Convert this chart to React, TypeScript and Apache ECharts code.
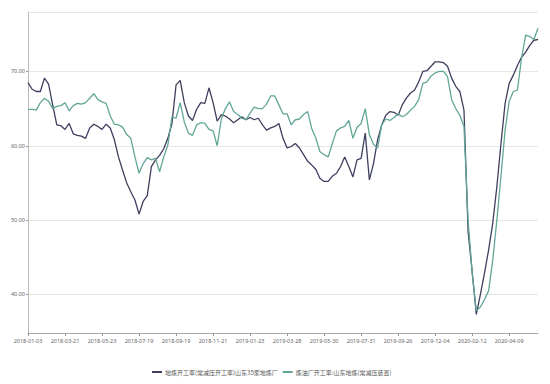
import React, { useEffect, useRef } from "react";
import * as echarts from "echarts";

const dates: string[] = [
  "2018-01-03", "2018-01-10", "2018-01-17", "2018-01-24", "2018-01-31", "2018-02-07", "2018-02-28", "2018-03-07", "2018-03-14",
  "2018-03-21", "2018-03-28", "2018-04-04", "2018-04-11", "2018-04-18", "2018-04-25", "2018-05-02", "2018-05-09", "2018-05-16",
  "2018-05-23", "2018-05-30", "2018-06-06", "2018-06-13", "2018-06-20", "2018-06-27", "2018-07-04", "2018-07-11", "2018-07-12",
  "2018-07-19", "2018-07-26", "2018-08-02", "2018-08-09", "2018-08-16", "2018-08-23", "2018-08-30", "2018-09-06", "2018-09-13",
  "2018-09-19", "2018-09-26", "2018-10-03", "2018-10-10", "2018-10-17", "2018-10-24", "2018-10-31", "2018-11-07", "2018-11-14",
  "2018-11-21", "2018-11-28", "2018-12-05", "2018-12-12", "2018-12-19", "2018-12-26", "2019-01-02", "2019-01-09", "2019-01-16",
  "2019-01-23", "2019-01-30", "2019-02-14", "2019-02-21", "2019-02-28", "2019-03-07", "2019-03-14", "2019-03-21", "2019-03-27",
  "2019-03-28", "2019-04-04", "2019-04-11", "2019-04-18", "2019-04-25", "2019-05-02", "2019-05-09", "2019-05-16", "2019-05-23",
  "2019-05-30", "2019-06-06", "2019-06-13", "2019-06-20", "2019-06-27", "2019-07-04", "2019-07-11", "2019-07-18", "2019-07-25",
  "2019-07-31", "2019-08-07", "2019-08-14", "2019-08-21", "2019-08-28", "2019-09-04", "2019-09-11", "2019-09-18", "2019-09-20",
  "2019-09-26", "2019-10-10", "2019-10-17", "2019-10-24", "2019-10-31", "2019-11-07", "2019-11-14", "2019-11-21", "2019-11-27",
  "2019-12-04", "2019-12-11", "2019-12-18", "2019-12-25", "2020-01-02", "2020-01-08", "2020-01-15", "2020-01-22", "2020-02-05",
  "2020-02-12", "2020-02-19", "2020-02-26", "2020-03-04", "2020-03-11", "2020-03-18", "2020-03-25", "2020-04-01", "2020-04-03",
  "2020-04-09", "2020-04-16", "2020-04-23", "2020-04-29", "2020-05-07", "2020-05-14", "2020-05-21", "2020-05-28",
];

const seriesNames: string[] = [
  "地炼开工率(常减压开工率)山东35家地炼厂",
  "炼油厂开工率:山东地炼(常减压装置)",
];

const darkValues: number[] = [
  68.5, 67.6, 67.3, 67.3, 69.1, 68.3, 65.5, 62.8, 62.7, 62.2,
  63.0, 61.6, 61.4, 61.3, 61.0, 62.4, 62.9, 62.6, 62.2, 62.9,
  62.4, 60.8, 58.5, 56.7, 55.0, 53.8, 52.7, 50.8, 52.5, 53.3,
  57.2, 58.1, 58.7, 59.6, 61.0, 63.0, 68.2, 68.8, 65.8, 64.0,
  63.4, 64.9, 65.8, 65.7, 67.8, 65.8, 63.3, 64.2, 64.0, 63.6,
  63.1, 63.5, 63.9, 63.5, 63.8, 63.5, 63.7, 62.8, 62.1, 62.4,
  62.6, 63.0, 61.0, 59.7, 59.9, 60.3, 59.7, 58.8, 57.9, 57.4,
  56.8, 55.6, 55.2, 55.2, 55.9, 56.3, 57.2, 58.5, 57.2, 55.8,
  58.1, 58.3, 61.7, 55.4, 57.6, 60.8, 62.8, 64.1, 64.6, 64.5,
  64.1, 65.5, 66.4, 67.1, 67.5, 68.6, 70.0, 70.1, 70.7, 71.3,
  71.3, 71.2, 70.7, 69.1, 68.0, 67.3, 64.8, 48.5, 43.0, 37.3,
  40.0, 42.9, 46.0, 49.6, 54.5, 60.3, 65.7, 68.4, 69.5, 70.8,
  71.9, 72.6, 73.5, 74.2, 74.3,
];

const tealValues: number[] = [
  64.9, 64.9, 64.8, 65.8, 66.4, 66.0, 65.0, 65.3, 65.4, 65.8,
  64.7, 65.4, 65.7, 65.6, 65.8, 66.4, 67.0, 66.2, 65.9, 65.7,
  64.0, 62.9, 62.8, 62.5, 61.5, 61.0, 58.5, 56.3, 57.6, 58.4,
  58.1, 58.3, 56.5, 58.5, 60.1, 63.9, 63.7, 65.8, 63.2, 61.7,
  61.4, 62.8, 63.1, 63.0, 62.2, 62.0, 60.0, 63.6, 65.0, 65.9,
  64.6, 64.2, 63.7, 63.5, 64.4, 65.2, 65.0, 65.0, 65.6, 66.7,
  66.7, 65.5, 64.3, 64.3, 62.8, 63.5, 63.6, 64.2, 64.6, 62.3,
  61.0, 59.2, 58.8, 58.5, 60.3, 62.0, 62.4, 62.6, 63.4, 61.0,
  62.5, 63.0, 65.0, 61.5, 60.2, 59.7, 62.8, 63.6, 63.4, 63.8,
  64.3, 63.9, 64.2, 64.8, 65.3, 66.2, 68.4, 68.6, 69.4, 69.8,
  70.0, 70.0, 69.3, 66.2, 65.0, 64.1, 62.6, 50.0, 42.9, 37.8,
  38.3, 39.3, 40.5, 44.6, 50.0, 55.9, 62.1, 66.0, 67.3, 67.5,
  71.8, 74.9, 74.7, 74.3, 75.8,
];

const yMin = 34.8;
const yMax = 78;

export default function App() {
  const ref = useRef<HTMLDivElement>(null);

  useEffect(() => {
    document.body.style.margin = "0";
    if (!ref.current) return;
    const chart = echarts.init(ref.current, null, { renderer: "svg" });
    const font = "'Noto Sans', 'Noto Sans CJK SC', sans-serif";
    chart.setOption({
      animation: false,
      backgroundColor: "#ffffff",
      textStyle: { fontFamily: font },
      grid: { left: 28, right: 12, top: 12, bottom: 51, containLabel: false },
      legend: {
        left: 147,
        top: 364,
        icon: "rect",
        itemWidth: 10,
        itemHeight: 2,
        itemGap: 5,
        textStyle: { fontSize: 6, color: "#555", fontFamily: "'Noto Sans CJK SC', sans-serif", padding: [0, 0, 0, -2] },
        data: seriesNames,
      },
      xAxis: {
        type: "category",
        data: dates,
        boundaryGap: false,
        axisLine: { show: true, lineStyle: { color: "#aaaaaa", width: 1 } },
        axisTick: { show: true, interval: 8, length: 3, lineStyle: { color: "#999" } },
        axisLabel: { interval: 8, fontSize: 5.5, color: "#666", margin: 5 },
        splitLine: { show: false },
      },
      yAxis: {
        type: "value",
        min: yMin,
        max: yMax,
        axisLine: { show: true, lineStyle: { color: "#bbbbbb", width: 1 } },
        axisTick: { show: true, length: 2, lineStyle: { color: "#999" } },
        axisLabel: {
          fontSize: 5.5,
          color: "#666",
          margin: 3,
          showMinLabel: false,
          showMaxLabel: false,
          formatter: (v: number) => v.toFixed(2),
        },
        splitLine: { show: true, lineStyle: { color: "#e6e6e6", width: 1 } },
      },
      series: [
        {
          name: seriesNames[0],
          type: "line",
          data: darkValues,
          showSymbol: false,
          symbol: "none",
          lineStyle: { color: "#3e3f5e", width: 1.3 },
          itemStyle: { color: "#3e3f5e" },
        },
        {
          name: seriesNames[1],
          type: "line",
          data: tealValues,
          showSymbol: false,
          symbol: "none",
          lineStyle: { color: "#62a697", width: 1.3 },
          itemStyle: { color: "#62a697" },
        },
      ],
    });
    return () => chart.dispose();
  }, []);

  return <div ref={ref} style={{ width: 550, height: 384 }} />;
}
